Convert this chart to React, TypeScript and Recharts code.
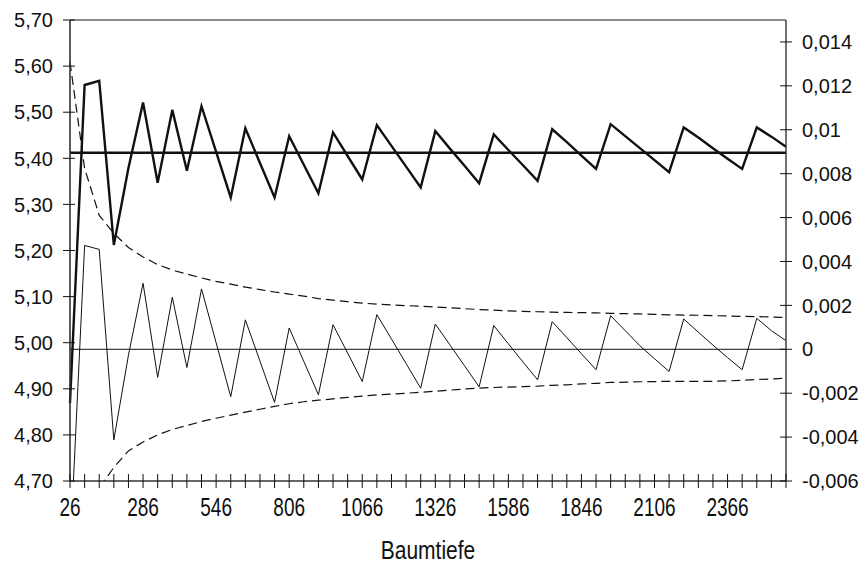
import { LineChart, Line, XAxis, YAxis, ReferenceLine, Label } from 'recharts';

// Baumtiefe (categories), one point every 52
const DEPTHS = [
  26, 78, 130, 182, 234, 286, 338, 390, 442, 494, 546, 598, 650, 702, 754, 806, 858, 910, 962, 1014,
  1066, 1118, 1170, 1222, 1274, 1326, 1378, 1430, 1482, 1534, 1586, 1638, 1690, 1742, 1794, 1846, 1898,
  1950, 2002, 2054, 2106, 2158, 2210, 2262, 2314, 2366, 2418, 2470, 2522, 2574,
];

// thick line, left axis
const MEAN_VALUES = [
  4.869, 5.559, 5.568, 5.212, 5.379, 5.521, 5.347, 5.505, 5.373, 5.513, 5.414, 5.315, 5.465, 5.39, 5.315,
  5.448, 5.386, 5.324, 5.456, 5.405, 5.354, 5.472, 5.427, 5.382, 5.337, 5.459, 5.421, 5.384, 5.346, 5.452,
  5.418, 5.385, 5.351, 5.463, 5.435, 5.406, 5.377, 5.474, 5.448, 5.422, 5.396, 5.37, 5.467, 5.445, 5.422,
  5.399, 5.377, 5.467, 5.447, 5.425,
];

// thin line, right axis
const DEVIATION = [
  -0.0093, 0.00473, 0.00455, -0.00413, -0.00027, 0.00301, -0.00128, 0.00237, -0.00083, 0.00275, 0.0003,
  -0.00216, 0.00134, -0.00054, -0.00242, 0.00097, -0.00055, -0.00207, 0.00112, -0.00017, -0.00147, 0.00158,
  0.00047, -0.00065, -0.00177, 0.00115, 0.0002, -0.00075, -0.00171, 0.00108, 0.00025, -0.00058, -0.00139,
  0.00126, 0.00053, -0.0002, -0.00093, 0.00153, 0.00085, 0.00016, -0.00043, -0.00101, 0.00138, 0.00078,
  0.00019, -0.00038, -0.00093, 0.00141, 0.00085, 0.00039,
];

// dashed band, right axis
const UPPER_BOUND = [
  0.01308, 0.00824, 0.0061, 0.00528, 0.00464, 0.0042, 0.00386, 0.00361, 0.00343, 0.00325, 0.00309, 0.00297,
  0.00283, 0.00272, 0.00261, 0.00251, 0.00242, 0.00231, 0.00224, 0.00217, 0.0021, 0.00206, 0.00202, 0.00199,
  0.00196, 0.00193, 0.00189, 0.00185, 0.00181, 0.00178, 0.00175, 0.00173, 0.00171, 0.00169, 0.00168, 0.00167,
  0.00166, 0.00164, 0.00162, 0.00161, 0.00159, 0.00157, 0.00156, 0.00155, 0.00153, 0.00152, 0.0015, 0.00149,
  0.00147, 0.00145,
];
const LOWER_BOUND = [
  -0.0125, -0.0085, -0.00632, -0.00538, -0.00463, -0.00422, -0.0039, -0.00365, -0.00347, -0.00329, -0.00314,
  -0.003, -0.00286, -0.00273, -0.0026, -0.00248, -0.00239, -0.00232, -0.00226, -0.00219, -0.00213, -0.00208,
  -0.00204, -0.002, -0.00196, -0.00191, -0.00186, -0.00181, -0.00177, -0.00174, -0.00172, -0.0017, -0.00168,
  -0.00164, -0.00162, -0.00158, -0.00155, -0.00151, -0.0015, -0.00148, -0.00147, -0.00146, -0.00146, -0.00146,
  -0.00146, -0.00144, -0.00141, -0.00138, -0.00135, -0.00132,
];

const MEAN_LEVEL = 5.412;
const ZERO_LEVEL = 0;

const LEFT_TICKS = [4.7, 4.8, 4.9, 5.0, 5.1, 5.2, 5.3, 5.4, 5.5, 5.6, 5.7];
const RIGHT_TICKS = [-0.006, -0.004, -0.002, 0, 0.002, 0.004, 0.006, 0.008, 0.01, 0.012, 0.014];
const LABEL_EVERY = 5;

const data = DEPTHS.map((depth, i) => ({
  depth,
  mean: MEAN_VALUES[i],
  dev: DEVIATION[i],
  upper: UPPER_BOUND[i],
  lower: LOWER_BOUND[i],
}));

const FONT = "'Liberation Sans', Arial, sans-serif";
const INK = '#111';
const TS = 7; // tickSize
const TM = 10; // tickMargin

const fmtLeft = (v: number) => v.toFixed(2).replace('.', ',');
const fmtRight = (v: number) => String(Number(v.toFixed(3))).replace('.', ',');

function LeftTick({ x, y, payload }: any) {
  const ax = x + TS + TM;
  return (
    <g>
      <line x1={ax - 7} x2={ax + 5} y1={y} y2={y} stroke={INK} />
      <text x={ax - 17} y={y} dy="0.36em" textAnchor="end" fontFamily={FONT} fontSize={20} fill={INK}>
        {fmtLeft(payload.value)}
      </text>
    </g>
  );
}

function RightTick({ x, y, payload }: any) {
  const ax = x - TS - TM;
  return (
    <g>
      <line x1={ax - 6} x2={ax + 6} y1={y} y2={y} stroke={INK} />
      <text x={ax + 16} y={y} dy="0.36em" textAnchor="start" fontFamily={FONT} fontSize={20} fill={INK}>
        {fmtRight(payload.value)}
      </text>
    </g>
  );
}

function BottomTick({ x, y, payload, index }: any) {
  const ay = y - TS - TM;
  return (
    <g>
      <line x1={x} x2={x} y1={ay - 7} y2={ay + 7} stroke={INK} />
      {index % LABEL_EVERY === 0 && (
        <text
          transform={`translate(${x},${ay + 16}) scale(1,1.4)`}
          dy="0.72em"
          textAnchor="middle"
          fontFamily={FONT}
          fontSize={19}
          fill={INK}
        >
          {payload.value}
        </text>
      )}
    </g>
  );
}

function AxisTitle({ viewBox }: any) {
  const cx = viewBox.x + viewBox.width / 2;
  const ty = viewBox.y + 60;
  return (
    <text
      transform={`translate(${cx},${ty}) scale(1,1.2)`}
      dy="0.72em"
      textAnchor="middle"
      fontFamily={FONT}
      fontSize={21}
      fill={INK}
    >
      Baumtiefe
    </text>
  );
}

export default function App() {
  return (
    <div style={{ position: 'absolute', left: 0, top: 0, width: 865, height: 565 }}>
      <LineChart width={865} height={565} data={data} margin={{ top: 20, right: 0, bottom: 0, left: 0 }}>
        <XAxis
          dataKey="depth"
          interval={0}
          height={84}
          tickSize={TS}
          tickMargin={TM}
          tickLine={false}
          tick={BottomTick}
          axisLine={{ stroke: '#333', strokeWidth: 1.6 }}
        >
          <Label content={AxisTitle} />
        </XAxis>
        <YAxis
          yAxisId="left"
          orientation="left"
          width={70}
          domain={[4.7, 5.7]}
          ticks={LEFT_TICKS}
          interval={0}
          allowDataOverflow
          tickSize={TS}
          tickMargin={TM}
          tickLine={false}
          tick={LeftTick}
          axisLine={{ stroke: '#333', strokeWidth: 1.6 }}
        />
        <YAxis
          yAxisId="right"
          orientation="right"
          width={79}
          domain={[-0.006, 0.015]}
          ticks={RIGHT_TICKS}
          interval={0}
          allowDataOverflow
          tickSize={TS}
          tickMargin={TM}
          tickLine={false}
          tick={RightTick}
          axisLine={{ stroke: '#333', strokeWidth: 1.4 }}
        />
        <ReferenceLine yAxisId="left" y={5.7} stroke="#666" strokeWidth={1.3} />
        <ReferenceLine yAxisId="left" y={MEAN_LEVEL} stroke={INK} strokeWidth={2.4} />
        <ReferenceLine yAxisId="right" y={ZERO_LEVEL} stroke={INK} strokeWidth={1} />
        <Line
          yAxisId="right"
          dataKey="upper"
          stroke={INK}
          strokeWidth={1.2}
          strokeDasharray="9 5"
          dot={false}
          isAnimationActive={false}
        />
        <Line
          yAxisId="right"
          dataKey="lower"
          stroke={INK}
          strokeWidth={1.2}
          strokeDasharray="9 5"
          dot={false}
          isAnimationActive={false}
        />
        <Line
          yAxisId="right"
          dataKey="dev"
          stroke={INK}
          strokeWidth={1}
          strokeLinejoin="miter"
          dot={false}
          isAnimationActive={false}
        />
        <Line
          yAxisId="left"
          dataKey="mean"
          stroke={INK}
          strokeWidth={2.4}
          strokeLinejoin="miter"
          dot={false}
          isAnimationActive={false}
        />
      </LineChart>
    </div>
  );
}
